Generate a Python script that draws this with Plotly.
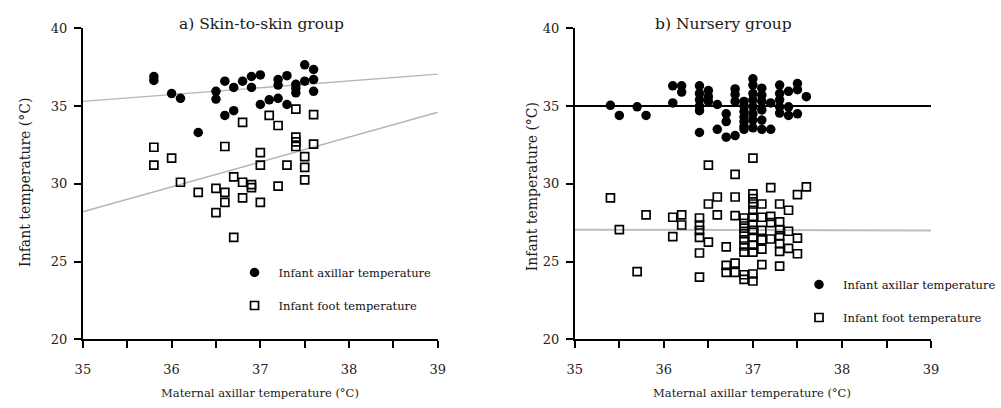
import plotly.graph_objects as go

# ---- a) Skin-to-skin group ----
a_axil_x = [35.8, 35.8, 36.0, 36.1, 36.3, 36.5, 36.5, 36.6, 36.6, 36.7, 36.7, 36.8, 36.9, 36.9, 37.0,
            37.0, 37.1, 37.2, 37.2, 37.2, 37.3, 37.3, 37.4, 37.4, 37.4, 37.5, 37.5, 37.6, 37.6, 37.6]
a_axil_y = [36.9, 36.65, 35.8, 35.5, 33.3, 35.95, 35.45, 36.6, 34.4, 36.2, 34.7, 36.6, 36.9, 36.2, 37.0,
            35.1, 35.4, 36.7, 36.35, 35.5, 36.95, 35.1, 36.4, 36.15, 35.85, 37.65, 36.6, 37.35, 36.7, 35.95]

a_foot_x = [35.8, 35.8, 36.0, 36.1, 36.3, 36.5, 36.5, 36.6, 36.6, 36.6, 36.7, 36.7, 36.8, 36.8, 36.8,
            36.9, 36.9, 37.0, 37.0, 37.0, 37.1, 37.2, 37.2, 37.3, 37.4, 37.4, 37.4, 37.4, 37.5, 37.5,
            37.5, 37.6, 37.6]
a_foot_y = [32.35, 31.2, 31.65, 30.1, 29.45, 29.7, 28.15, 32.4, 29.45, 28.8, 30.45, 26.55, 33.95, 30.1, 29.1,
            29.95, 29.75, 32.0, 31.2, 28.8, 34.4, 33.75, 29.85, 31.2, 34.8, 33.0, 32.7, 32.4, 31.75, 31.05,
            30.25, 34.45, 32.55]

# fitted lines, evaluated at the ends of the x range
fit_x = [35, 39]
a_axil_fit = [35.3, 37.05]
a_foot_fit = [28.2, 34.6]

# ---- b) Nursery group ----
b_axil = {
    35.4: [35.05], 35.5: [34.4], 35.7: [34.95], 35.8: [34.4],
    36.1: [36.3, 35.2], 36.2: [36.3, 35.9],
    36.4: [36.3, 35.8, 35.4, 35.0, 34.7, 33.3],
    36.5: [36.0, 35.6, 35.3], 36.6: [35.1, 33.5], 36.7: [34.5, 34.0, 33.0],
    36.8: [36.1, 35.75, 35.3, 33.1],
    36.9: [35.3, 35.0, 34.65, 34.3, 34.0, 33.7, 33.5],
    37.0: [36.75, 36.35, 35.8, 35.4, 34.95, 34.5, 34.1, 33.6],
    37.1: [36.15, 35.7, 35.3, 34.75, 34.1, 33.5],
    37.2: [35.2, 33.5], 37.3: [36.35, 35.8, 35.4, 34.95, 34.55],
    37.4: [35.95, 34.95, 34.4], 37.5: [36.45, 36.05, 34.5], 37.6: [35.6],
}
b_foot = {
    35.4: [29.1], 35.5: [27.05], 35.7: [24.35], 35.8: [28.0],
    36.1: [27.85, 26.6], 36.2: [28.0, 27.35],
    36.4: [27.8, 27.35, 27.0, 26.55, 25.55, 24.0],
    36.5: [31.2, 28.7, 26.25], 36.6: [29.15, 28.0], 36.7: [25.95, 24.75, 24.3],
    36.8: [30.6, 29.15, 27.95, 24.9, 24.3],
    36.9: [27.8, 27.45, 27.15, 26.8, 26.4, 26.0, 25.6, 24.15, 23.85],
    37.0: [31.65, 29.35, 29.05, 28.7, 28.3, 27.85, 27.4, 27.0, 26.55, 26.05, 25.6, 24.2, 23.75],
    37.1: [28.7, 27.85, 27.0, 26.4, 25.8, 24.8],
    37.2: [29.75, 27.9, 27.5, 26.45],
    37.3: [28.7, 27.55, 27.05, 26.65, 26.15, 25.65, 24.7],
    37.4: [28.3, 26.95, 25.85], 37.5: [29.3, 26.5, 25.5], 37.6: [29.8],
}
b_axil_x = [x for x, ys in b_axil.items() for _ in ys]
b_axil_y = [y for ys in b_axil.values() for y in ys]
b_foot_x = [x for x, ys in b_foot.items() for _ in ys]
b_foot_y = [y for ys in b_foot.values() for y in ys]
b_axil_fit = [35.0, 35.0]
b_foot_fit = [27.05, 27.0]

x_ticks = [35, 35.5, 36, 36.5, 37, 37.5, 38, 38.5, 39]
x_ticktext = ["35", "", "36", "", "37", "", "38", "", "39"]
y_ticks = [20, 25, 30, 35, 40]

FONT = "DejaVu Serif, Liberation Serif, serif"
W, H = 1001, 408

circle = dict(symbol="circle", size=9.5, color="black")
square = dict(symbol="square-open", size=8, color="black", line=dict(width=1.7, color="black"))

fig = go.Figure()
# panel a
fig.add_trace(go.Scatter(x=fit_x, y=a_axil_fit, mode="lines", line=dict(color="#b5b5b5", width=1.4),
                         showlegend=False, xaxis="x", yaxis="y"))
fig.add_trace(go.Scatter(x=fit_x, y=a_foot_fit, mode="lines", line=dict(color="#b5b5b5", width=1.4),
                         showlegend=False, xaxis="x", yaxis="y"))
fig.add_trace(go.Scatter(x=a_axil_x, y=a_axil_y, mode="markers", marker=circle,
                         name="Infant axillar temperature", legend="legend", legendgroup="a1",
                         xaxis="x", yaxis="y"))
fig.add_trace(go.Scatter(x=a_foot_x, y=a_foot_y, mode="markers", marker=square,
                         name="Infant foot temperature", legend="legend", legendgroup="a2",
                         xaxis="x", yaxis="y"))
# panel b
fig.add_trace(go.Scatter(x=fit_x, y=b_axil_fit, mode="lines", line=dict(color="black", width=2),
                         showlegend=False, xaxis="x2", yaxis="y2"))
fig.add_trace(go.Scatter(x=fit_x, y=b_foot_fit, mode="lines", line=dict(color="#bdbdbd", width=2),
                         showlegend=False, xaxis="x2", yaxis="y2"))
fig.add_trace(go.Scatter(x=b_axil_x, y=b_axil_y, mode="markers", marker=circle,
                         name="Infant axillar temperature", legend="legend2", legendgroup="b1",
                         xaxis="x2", yaxis="y2"))
fig.add_trace(go.Scatter(x=b_foot_x, y=b_foot_y, mode="markers", marker=square,
                         name="Infant foot temperature", legend="legend2", legendgroup="b2",
                         xaxis="x2", yaxis="y2"))

y_dom = [1 - 339.3 / H, 1 - 28.3 / H]
common_x = dict(range=[35, 39], tickvals=x_ticks, ticktext=x_ticktext, ticks="outside", ticklen=7,
                tickwidth=1.5, tickcolor="black", showline=True, linewidth=2, linecolor="black",
                showgrid=False, zeroline=False, tickfont=dict(family=FONT, size=13, color="#222"),
                ticklabelstandoff=10, automargin=False)
common_y = dict(range=[20, 40], tickvals=y_ticks, ticks="outside", ticklen=7, tickwidth=1.5,
                tickcolor="black", showline=True, linewidth=2, linecolor="black", showgrid=False,
                zeroline=False, tickfont=dict(family=FONT, size=13, color="#222"), automargin=False,
                ticklabelstandoff=4, domain=y_dom)

legend_common = dict(font=dict(family=FONT, size=11.5, color="#111"), bgcolor="rgba(0,0,0,0)",
                     itemwidth=38, tracegroupgap=14, xanchor="left", yanchor="middle")


def label(text, x, y, size, angle=0):
    return dict(text=text, x=x / W, y=1 - y / H, xref="paper", yref="paper", xanchor="center",
                yanchor="middle", showarrow=False, textangle=angle,
                font=dict(family=FONT, size=size, color="#1a1a1a"))


fig.update_layout(
    width=W, height=H, margin=dict(l=0, r=0, t=0, b=0),
    plot_bgcolor="white", paper_bgcolor="white",
    xaxis=dict(domain=[83.3 / W, 440 / W], anchor="y", **common_x),
    yaxis=dict(anchor="x", **common_y),
    xaxis2=dict(domain=[577.7 / W, 935.7 / W], anchor="y2", **common_x),
    yaxis2=dict(anchor="x2", **common_y),
    legend=dict(x=(255.7 - 24) / W, y=1 - 289 / H, **legend_common),
    legend2=dict(x=(823 - 24) / W, y=1 - 301 / H, **legend_common),
    annotations=[
        label("a) Skin-to-skin group", 263, 24, 15.5),
        label("b) Nursery group", 727, 24, 15.5),
        label("Maternal axillar temperature (°C)", 261, 393, 11.5),
        label("Maternal axillar temperature (°C)", 756, 393, 11.5),
        label("Infant temperature (°C)", 25, 182, 14, -90),
        label("Infant temperature (°C)", 535, 187, 14, -90),
    ],
)

fig.write_html("out.html")
